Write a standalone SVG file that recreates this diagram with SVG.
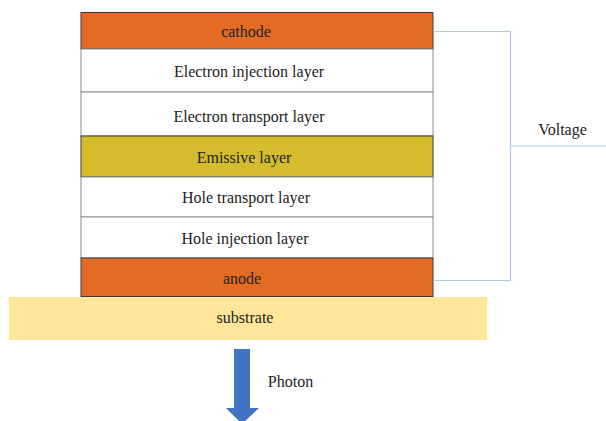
<svg xmlns="http://www.w3.org/2000/svg" width="606" height="421" viewBox="0 0 606 421">
<style>
text{font-family:"Liberation Serif","Times New Roman",serif;font-size:16px;fill:#222;text-anchor:middle}
.w{fill:#fff;stroke:#8c8c8c;stroke-width:1}
.o{fill:#E46B23;stroke:#3a3a3a;stroke-width:1}
.y{fill:#D4BC2C;stroke:#3a3a3a;stroke-width:1}
.wire{fill:none;stroke:#B4C7E7;stroke-width:1.2}
</style>
<rect width="606" height="421" fill="#fff"/>
<g id="substrate"><rect x="9" y="297" width="478" height="43" fill="#FFE699"/><text x="245" y="323">substrate</text></g>
<g id="cathode"><rect class="o" x="81" y="12.5" width="352" height="36.5"/><text x="246" y="37">cathode</text></g>
<g id="eil"><rect class="w" x="81" y="49" width="352" height="43"/><text x="249" y="76.5">Electron injection layer</text></g>
<g id="etl"><rect class="w" x="81" y="92" width="352" height="44"/><text x="249" y="121.5">Electron transport layer</text></g>
<g id="eml"><rect class="y" x="81" y="136" width="352" height="41"/><text x="244" y="162.5">Emissive layer</text></g>
<g id="htl"><rect class="w" x="81" y="177" width="352" height="40"/><text x="246" y="202.5">Hole transport layer</text></g>
<g id="hil"><rect class="w" x="81" y="217" width="352" height="41"/><text x="245" y="243.5">Hole injection layer</text></g>
<g id="anode"><rect class="o" x="81" y="258" width="352" height="38.5"/><text x="242" y="283.5">anode</text></g>
<g id="connectors">
<path class="wire" d="M433,31.5 H510.5 V280.5 H433 M510.5,146 H606"/>
<path d="M234,349 H250 V408 H259 L242,424 L226,408 H234 Z" fill="#4472C4"/>
</g>
<g id="labels"><text x="562.5" y="135">Voltage</text><text x="290.5" y="387">Photon</text></g>
</svg>
